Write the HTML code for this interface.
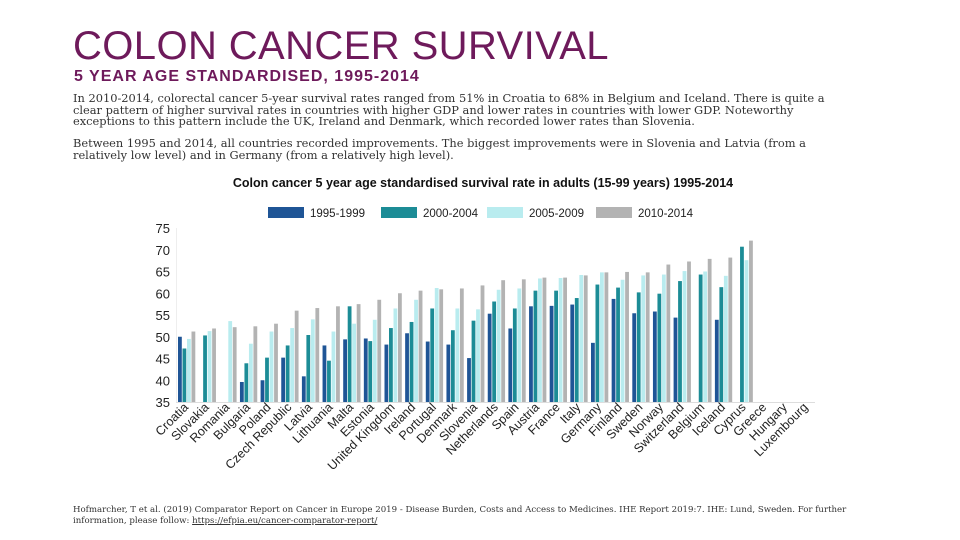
<!DOCTYPE html>
<html><head><meta charset="utf-8"><style>
body{margin:0;width:960px;height:540px;background:#fff;overflow:hidden;position:relative;font-family:"Liberation Sans",sans-serif}
.t{position:absolute;left:73px;top:24px;font-size:40px;color:#6e1a5b;margin:0;font-weight:normal;letter-spacing:0.4px}
.st{position:absolute;left:74px;top:68px;font-size:16px;font-weight:bold;color:#6e1a5b;letter-spacing:1px}
.p{position:absolute;left:73px;width:780px;font-family:"DejaVu Serif",serif;font-size:11.4px;line-height:11.5px;color:#333}
.src{position:absolute;left:73px;top:505px;font-family:"DejaVu Serif",serif;font-size:8.6px;line-height:11px;color:#333;width:790px}
</style></head><body>
<h1 class="t">COLON CANCER SURVIVAL</h1>
<div class="st">5 YEAR AGE STANDARDISED, 1995-2014</div>
<div class="p" style="top:93px">In 2010-2014, colorectal cancer 5-year survival rates ranged from 51% in Croatia to 68% in Belgium and Iceland. There is quite a clear pattern of higher survival rates in countries with higher GDP and lower rates in countries with lower GDP. Noteworthy exceptions to this pattern include the UK, Ireland and Denmark, which recorded lower rates than Slovenia.</div>
<div class="p" style="top:138px">Between 1995 and 2014, all countries recorded improvements. The biggest improvements were in Slovenia and Latvia (from a relatively low level) and in Germany (from a relatively high level).</div>
<svg id="chart" width="960" height="540" style="position:absolute;left:0;top:0"></svg>
<div class="src">Hofmarcher, T et al. (2019) Comparator Report on Cancer in Europe 2019 - Disease Burden, Costs and Access to Medicines. IHE Report 2019:7. IHE: Lund, Sweden. For further information, please follow: <a style="color:#333;text-decoration:underline">https://efpia.eu/cancer-comparator-report/</a></div>
<script>
const categories=["Croatia","Slovakia","Romania","Bulgaria","Poland","Czech Republic","Latvia","Lithuania","Malta","Estonia","United Kingdom","Ireland","Portugal","Denmark","Slovenia","Netherlands","Spain","Austria","France","Italy","Germany","Finland","Sweden","Norway","Switzerland","Belgium","Iceland","Cyprus","Greece","Hungary","Luxembourg"];
const s1995=[50,null,null,39.6,40,45.2,40.9,48,49.4,49.6,48.2,50.8,48.9,48.2,45.1,55.3,51.9,57,57.1,57.4,48.6,58.7,55.4,55.8,54.4,null,53.9,null,null,null,null];
const s2000=[47.3,50.3,null,43.9,45.2,48,50.4,44.5,57,49,52,53.4,56.5,51.5,53.7,58.1,56.5,60.6,60.6,58.9,62,61.3,60.2,59.9,62.8,64.3,61.4,70.7,null,null,null];
const s2005=[49.5,51.3,53.6,48.4,51.2,52,54,51.2,53,53.9,56.5,58.5,61.2,56.5,56.3,60.8,61.1,63.4,63.5,64.2,64.8,63.1,64.1,64.3,65.1,65,64,67.6,null,null,null];
const s2010=[51.2,51.9,52.2,52.4,53,56,56.6,57,57.5,58.5,60,60.6,60.9,61.1,61.8,63,63.2,63.6,63.6,64.1,64.8,64.9,64.8,66.6,67.3,67.9,68.2,72.1,null,null,null];
const yTicks=[35,40,45,50,55,60,65,70,75];
const seriesNames=["1995-1999","2000-2004","2005-2009","2010-2014"];
const colors=["#1f5596","#1c8c96","#b9ecef","#b3b3b3"];
const series=[s1995,s2000,s2005,s2010];
const NS="http://www.w3.org/2000/svg",svg=document.getElementById('chart');
const y0=402,y1=228,vmin=35,vmax=75,x0=178,gw=20.65;
const yS=v=>y0-(v-vmin)/(vmax-vmin)*(y0-y1);
const xS=i=>x0+i*gw;
function mk(t,a){const e=document.createElementNS(NS,t);for(const k in a)e.setAttribute(k,a[k]);svg.appendChild(e);return e;}
let e=mk('text',{x:483,y:187,'text-anchor':'middle','font-size':'12.5','font-weight':'bold',fill:'#111'});e.textContent="Colon cancer 5 year age standardised survival rate in adults (15-99 years) 1995-2014";


const lx=[268,381,487,596];
seriesNames.forEach((n,k)=>{
 let r=mk('rect',{x:lx[k],y:207,width:36,height:11,fill:colors[k]});
 
 
 let t=mk('text',{x:lx[k]+42,y:217,'font-size':'11.5',fill:'#222'});t.textContent=n;
 
 
});
yTicks.forEach(v=>{
 let t=mk('text',{x:170,y:yS(v)+5,'text-anchor':'end','font-size':'13',fill:'#222'});t.textContent=v;
 
 
});
let ax=mk('line',{x1:176,y1:y0+0.5,x2:815,y2:y0+0.5,stroke:'#ddd'});


let ay=mk('line',{x1:176.5,y1:228,x2:176.5,y2:y0,stroke:'#eee'});


categories.forEach((c,i)=>{
 series.forEach((s,k)=>{
  const v=s[i];if(v==null)return;
  let r=mk('rect',{x:xS(i)+k*4.5,y:yS(v),width:3.8,height:y0-yS(v),fill:colors[k]});
  
  
 });
 const cx=xS(i)+11,cy=408;
 let t=mk('text',{x:cx,y:cy,'text-anchor':'end','font-size':'12.5',fill:'#222',transform:`rotate(-45 ${cx} ${cy})`});t.textContent=c;
 
 
});
</script>
</body></html>
